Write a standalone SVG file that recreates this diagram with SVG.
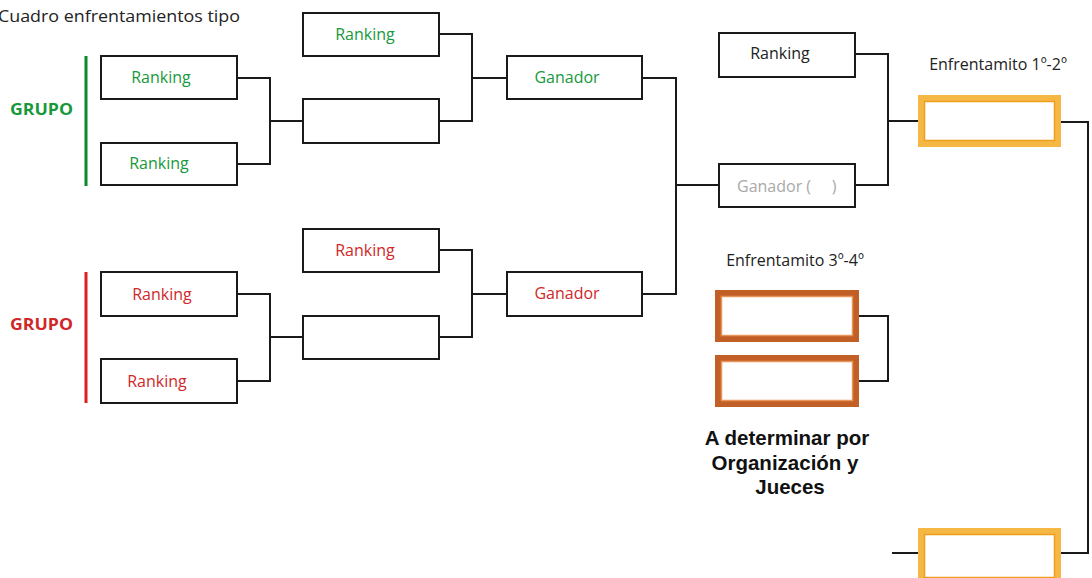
<svg xmlns="http://www.w3.org/2000/svg" width="1092" height="578" viewBox="0 0 1092 578">
<style>
.box{fill:#fff;stroke:#1a1a1a;stroke-width:2}
.ln{fill:none;stroke:#1a1a1a;stroke-width:2}
.t{font-family:"Open Sans","Noto Sans",sans-serif;font-size:16px}
.g{fill:#17993b}
.r{fill:#d02828}
.k{fill:#222}
.gr{fill:#a9a9a9;white-space:pre}
.grp{font-family:"Open Sans","Noto Sans",sans-serif;font-size:16px;font-weight:bold}
.or1{fill:#fff;stroke:#f6b845;stroke-width:6}
.or2{fill:none;stroke:#ef9e1c;stroke-width:1.5}
.br1{fill:#fff;stroke:#c25f26;stroke-width:6}
.br2{fill:none;stroke:#e8955a;stroke-width:1.5}
.bold{font-family:"Liberation Sans",Arial,sans-serif;font-size:20.5px;font-weight:bold;fill:#111}
</style>
<rect width="1092" height="578" fill="#fff"/>
<text x="-2" y="22" class="t k" textLength="242" lengthAdjust="spacingAndGlyphs">Cuadro enfrentamientos tipo</text>

<g id="connectors">
<path class="ln" d="M237 78H270V164H237M270 121H303"/>
<path class="ln" d="M237 294H270V381H237M270 337H303"/>
<path class="ln" d="M439 34H472V121H439M472 78H507"/>
<path class="ln" d="M439 250H472V337H439M472 294H507"/>
<path class="ln" d="M642 78H676V294H642M676 185H719"/>
<path class="ln" d="M855 54H888V185H855M888 121H920"/>
<path class="ln" d="M1059 122H1088V553H1059M920 553H892"/>
<path class="ln" d="M857 316H888V381H857"/>
</g>

<g id="grupo-green">
<rect x="84.5" y="56" width="3" height="130" fill="#0a8a2c"/>
<text x="10" y="115" class="grp g" textLength="63" lengthAdjust="spacingAndGlyphs">GRUPO</text>
</g>
<g id="grupo-red">
<rect x="84.5" y="272" width="3" height="131" fill="#dd1f1f"/>
<text x="10" y="330" class="grp r" textLength="63" lengthAdjust="spacingAndGlyphs">GRUPO</text>
</g>

<g id="g-r1"><rect class="box" x="101" y="56" width="136" height="43"/><text x="161" y="83" class="t g" text-anchor="middle">Ranking</text></g>
<g id="g-r2"><rect class="box" x="101" y="143" width="136" height="42"/><text x="159" y="169" class="t g" text-anchor="middle">Ranking</text></g>
<g id="g-r3"><rect class="box" x="303" y="13" width="136" height="43"/><text x="365" y="40" class="t g" text-anchor="middle">Ranking</text></g>
<g id="g-e1"><rect class="box" x="303" y="99" width="136" height="44"/></g>
<g id="g-win"><rect class="box" x="507" y="56" width="135" height="43"/><text x="567" y="83" class="t g" text-anchor="middle">Ganador</text></g>

<g id="r-r1"><rect class="box" x="101" y="272" width="136" height="44"/><text x="162" y="300" class="t r" text-anchor="middle">Ranking</text></g>
<g id="r-r2"><rect class="box" x="101" y="359" width="136" height="44"/><text x="157" y="387" class="t r" text-anchor="middle">Ranking</text></g>
<g id="r-r3"><rect class="box" x="303" y="229" width="136" height="43"/><text x="365" y="256" class="t r" text-anchor="middle">Ranking</text></g>
<g id="r-e1"><rect class="box" x="303" y="316" width="136" height="43"/></g>
<g id="r-win"><rect class="box" x="507" y="272" width="135" height="44"/><text x="567" y="299" class="t r" text-anchor="middle">Ganador</text></g>

<g id="s-rank"><rect class="box" x="719" y="33" width="136" height="44"/><text x="780" y="59" class="t k" text-anchor="middle">Ranking</text></g>
<g id="s-win"><rect class="box" x="719" y="164" width="136" height="43"/><text x="737" y="192" class="t gr" xml:space="preserve">Ganador (     )</text></g>

<g id="final">
<text x="998" y="70" class="t k" text-anchor="middle" font-size="15">Enfrentamito 1º-2º</text>
<rect class="or1" x="921" y="98" width="137" height="46"/>
<rect class="or2" x="924.5" y="101.5" width="130" height="39"/>
</g>

<g id="third">
<text x="795" y="266" class="t k" text-anchor="middle" font-size="15">Enfrentamito 3º-4º</text>
<rect class="br1" x="718" y="293" width="138" height="46"/>
<rect class="br2" x="721.5" y="296.5" width="131" height="39"/>
<rect class="br1" x="718" y="358" width="138" height="46"/>
<rect class="br2" x="721.5" y="361.5" width="131" height="39"/>
</g>

<g id="note">
<text x="787" y="445" class="bold" text-anchor="middle">A determinar por</text>
<text x="785" y="470" class="bold" text-anchor="middle">Organización y</text>
<text x="790" y="494" class="bold" text-anchor="middle">Jueces</text>
</g>

<g id="bottom-box">
<rect class="or1" x="921" y="531" width="137" height="50"/>
<rect class="or2" x="924.5" y="534.5" width="130" height="43"/>
</g>
</svg>
